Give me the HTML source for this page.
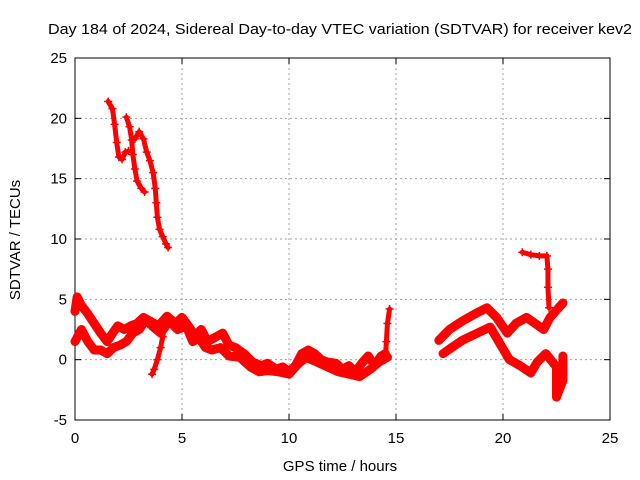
<!DOCTYPE html>
<html><head><meta charset="utf-8"><style>
body{margin:0;background:#fff}
svg{display:block;font-family:"Liberation Sans",sans-serif}
</style></head><body>
<svg id="chart" width="640" height="480" viewBox="0 0 640 480">
<text x="48" y="34" font-size="15" textLength="584" lengthAdjust="spacingAndGlyphs">Day 184 of 2024, Sidereal Day-to-day VTEC variation (SDTVAR) for receiver kev2</text>
<g id="grid"></g>
<g id="axes"></g>
<g id="series"></g>
<text transform="translate(20,240) rotate(-90)" text-anchor="middle" font-size="15">SDTVAR / TECUs</text>
<text x="340" y="471" text-anchor="middle" font-size="15">GPS time / hours</text>
</svg>
<script>
const xTicks=[0,5,10,15,20,25];
const yTicks=[-5,0,5,10,15,20,25];
const s1=[[1.55,21.4],[1.75,20.8],[1.85,19.5],[1.95,18],[2.05,16.8],[2.2,16.6],[2.35,17.2],[2.5,17.3]];
const s2=[[2.4,20.1],[2.55,19.3],[2.65,18.2],[2.7,17],[2.8,15.8],[2.9,14.8],[3.1,14.2],[3.25,13.9]];
const s3=[[2.8,18.3],[3.0,18.9],[3.2,18.3],[3.35,17.2],[3.5,16.5],[3.65,15.5],[3.75,14.2],[3.8,13],[3.85,11.8],[3.95,10.8],[4.1,10.2],[4.25,9.6],[4.35,9.3]];
const s4=[[3.6,-1.2],[3.7,-0.8],[3.85,0],[4.0,1],[4.1,1.9],[4.15,2.6]];
const s5=[[0,4],[0.1,5.2],[0.3,4.5],[0.6,3.8],[0.9,3],[1.2,2.2],[1.5,1.5],[1.8,2.3],[2.0,2.8],[2.3,2.5],[2.6,2.8],[2.9,3.0],[3.2,3.5],[3.5,3.2],[3.9,2.8],[4.3,3.6],[4.7,3.0],[5.0,3.5],[5.3,2.8],[5.6,2.0],[5.9,2.5],[6.2,1.5],[6.5,1.8],[6.9,2.2],[7.2,1.2],[7.5,1.0],[7.9,0.5],[8.3,-0.2],[8.7,-0.5],[9.0,-0.3],[9.4,-0.8],[9.7,-0.6],[10.0,-1.0],[10.3,-0.5],[10.6,0.5],[10.9,0.8],[11.2,0.5],[11.5,0],[11.8,-0.2],[12.2,-0.3],[12.5,-0.8],[12.8,-0.5],[13.1,-1],[13.4,-0.3],[13.7,0.3],[14.0,-0.5],[14.3,0.3],[14.5,0.5]];
const s6=[[0,1.5],[0.3,2.5],[0.6,1.5],[0.9,0.8],[1.2,0.8],[1.5,0.5],[1.8,1.0],[2.1,1.2],[2.4,1.5],[2.7,2.2],[3.0,2.5],[3.3,3.3],[3.6,2.8],[4.0,2.2],[4.4,3.2],[4.8,2.5],[5.2,2.8],[5.5,1.5],[5.8,1.8],[6.1,1.0],[6.4,0.8],[6.8,1.0],[7.2,0.3],[7.7,0.2],[8.2,-0.6],[8.6,-1.0],[9.0,-0.9],[9.5,-1.0],[10.0,-1.2],[10.4,-0.4],[10.8,0.2],[11.3,-0.2],[11.8,-0.6],[12.3,-1.0],[12.8,-1.2],[13.3,-1.4],[13.8,-0.8],[14.2,-0.2],[14.6,0.2]];
const s7=[[14.5,0],[14.55,1.5],[14.6,3],[14.7,4.2]];
const s8=[[20.9,8.9],[21.3,8.7],[21.7,8.6],[22.05,8.6],[22.1,7.5],[22.1,6],[22.15,4.3]];
const s9=[[17.0,1.6],[17.5,2.5],[18.1,3.2],[18.7,3.8],[19.25,4.3],[19.7,3.5],[20.2,2.2],[20.6,3.0],[21.1,3.5],[21.5,3.0],[21.9,2.5],[22.2,3.5],[22.5,4.1],[22.8,4.7]];
const s10=[[17.2,0.5],[17.6,1.0],[18.1,1.6],[18.8,2.2],[19.4,2.7],[19.9,1.2],[20.3,0],[20.8,-0.5],[21.3,-1.1],[21.6,-0.2],[22.0,0.5],[22.5,-0.6],[22.5,-3.1],[22.8,-1.7],[22.8,0.3]];
const allSeries=[s1,s2,s3,s4,s5,s6,s7,s8,s9,s10];
const X0=75,X1=610,Y0=420,Y1=58;
const xs=v=>X0+(v-0)/25*(X1-X0);
const ys=v=>Y0-(v+5)/30*(Y0-Y1);
const NS="http://www.w3.org/2000/svg";
function mk(tag,attrs,parent){const e=document.createElementNS(NS,tag);for(const k in attrs)e.setAttribute(k,attrs[k]);parent.appendChild(e);return e;}
const grid=document.getElementById('grid'),axes=document.getElementById('axes'),ser=document.getElementById('series');
xTicks.forEach(t=>{
 if(t>0&&t<25){const l=mk('line',{x1:xs(t),x2:xs(t),y1:Y1,y2:Y0,stroke:'#a0a0a0','stroke-dasharray':'2,3'},grid);
 
 }
 const tx=mk('text',{x:xs(t),y:Y0+23,'text-anchor':'middle','font-size':15},axes);tx.textContent=t;
 
 
 mk('line',{x1:xs(t),x2:xs(t),y1:Y0,y2:Y0-6,stroke:'#000'},axes);
 mk('line',{x1:xs(t),x2:xs(t),y1:Y1,y2:Y1+6,stroke:'#000'},axes);
});
yTicks.forEach(t=>{
 if(t>-5&&t<25){const l=mk('line',{x1:X0,x2:X1,y1:ys(t),y2:ys(t),stroke:'#a0a0a0','stroke-dasharray':'2,3'},grid);
 
 }
 const tx=mk('text',{x:X0-8,y:ys(t)+5,'text-anchor':'end','font-size':15},axes);tx.textContent=t;
 
 
 mk('line',{x1:X0,x2:X0+6,y1:ys(t),y2:ys(t),stroke:'#000'},axes);
 mk('line',{x1:X1,x2:X1-6,y1:ys(t),y2:ys(t),stroke:'#000'},axes);
});
mk('rect',{x:X0,y:Y1,width:X1-X0,height:Y0-Y1,fill:'none',stroke:'#000'},axes);
allSeries.forEach((s,i)=>{
 const thick=(s===s5||s===s6||s===s9||s===s10)?9:5;
 const pl=mk('polyline',{points:s.map(p=>xs(p[0])+','+ys(p[1])).join(' '),fill:'none',stroke:'#f00','stroke-width':thick,'stroke-linejoin':'round','stroke-linecap':'round'},ser);
 
 
 s.forEach(p=>{
  const x=xs(p[0]),y=ys(p[1]);
  const m=mk('path',{d:`M${x-4},${y}H${x+4}M${x},${y-4}V${y+4}`,stroke:'#f00','stroke-width':1.5},ser);
  
  
 });
});
</script>
</body></html>
